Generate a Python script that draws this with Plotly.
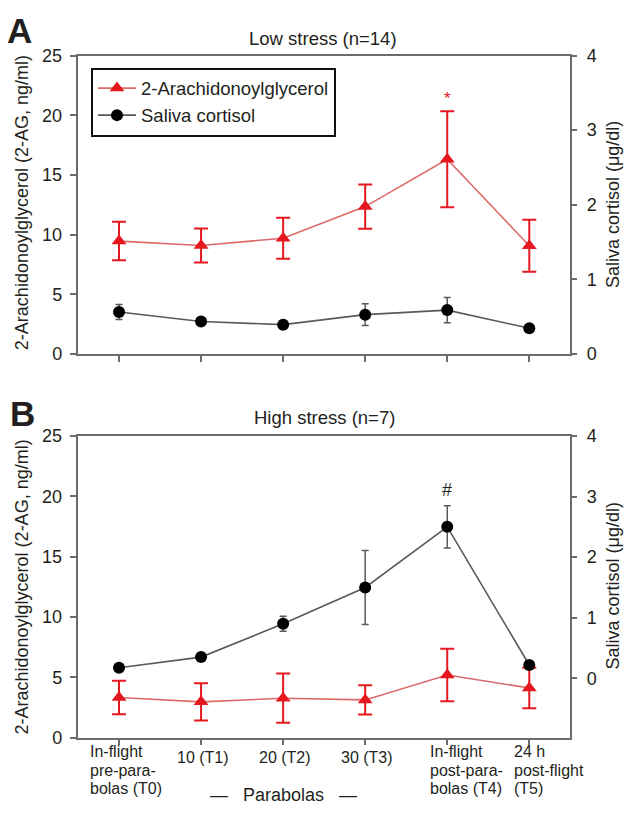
import plotly.graph_objects as go

# ---------------- data ----------------
timepoints = ["T0", "T1", "T2", "T3", "T4", "T5"]
tick_lines = [
    ["In-flight", "pre-para-", "bolas (T0)"],
    ["10 (T1)"],
    ["20 (T2)"],
    ["30 (T3)"],
    ["In-flight", "post-para-", "bolas (T4)"],
    ["24 h", "post-flight", "(T5)"],
]
ag_low = [9.46, 9.09, 9.70, 12.35, 16.31, 9.07]
ag_low_err = [1.61, 1.43, 1.72, 1.86, 4.02, 2.17]
cort_low = [0.563, 0.437, 0.394, 0.528, 0.589, 0.346]
cort_low_err = [0.10, 0.02, 0.055, 0.145, 0.17, 0.02]

ag_high = [3.33, 2.97, 3.27, 3.13, 5.19, 4.12]
ag_high_err = [1.39, 1.55, 2.04, 1.21, 2.17, 1.68]
cort_high = [0.175, 0.35, 0.90, 1.50, 2.50, 0.22]
cort_high_err = [0.03, 0.02, 0.124, 0.61, 0.35, 0.03]

left_ticks = [0, 5, 10, 15, 20, 25]
right_ticks = [0, 1, 2, 3, 4]

# ---------------- styling ----------------
W, H = 625, 815
FONT = "Liberation Sans"
TXT = "#231f20"
AXC = "#6b6b6b"
RED = "#e5171f"
REDLINE = "#dc6a6a"
GRAYLINE = "#5a5a5a"

def px(x):
    return x / W

def py(y):
    return 1 - y / H

xdom = [px(77.5), px(569.5)]
xrange_ = [-0.506, 5.49]
ydomA = [py(352.7), py(46.7)]
ydomB = [py(746), py(436.7)]

idx = list(range(len(timepoints)))

fig = go.Figure()

def add_pair(ag, ag_err, co, co_err, xa, ya_left, ya_right, show):
    fig.add_trace(go.Scatter(
        x=idx, y=ag, name="2-Arachidonoylglycerol", mode="lines+markers",
        xaxis=xa, yaxis=ya_left, showlegend=show,
        line=dict(color=REDLINE, width=1.6),
        marker=dict(symbol="triangle-up", size=13, color=RED),
        error_y=dict(type="data", array=ag_err, visible=True, color=RED,
                     thickness=2, width=7),
    ))
    fig.add_trace(go.Scatter(
        x=idx, y=co, name="Saliva cortisol", mode="lines+markers",
        xaxis=xa, yaxis=ya_right, showlegend=show,
        line=dict(color=GRAYLINE, width=1.6),
        marker=dict(symbol="circle", size=12, color="black"),
        error_y=dict(type="data", array=co_err, visible=True, color=GRAYLINE,
                     thickness=1.5, width=3.5),
    ))

add_pair(ag_low, ag_low_err, cort_low, cort_low_err, "x", "y", "y2", True)
add_pair(ag_high, ag_high_err, cort_high, cort_high_err, "x2", "y3", "y4", False)

axis_common = dict(showline=True, linecolor=AXC, linewidth=1.5, showgrid=False,
                   zeroline=False, ticks="outside", ticklen=6, tickcolor=AXC,
                   tickwidth=1.5, tickfont=dict(family=FONT, size=18, color=TXT))

fig.update_layout(
    width=W, height=H, margin=dict(l=0, r=0, t=0, b=0),
    paper_bgcolor="white", plot_bgcolor="white",
    font=dict(family=FONT, color=TXT),
    xaxis=dict(domain=xdom, anchor="y", range=xrange_, tickvals=idx,
               showticklabels=False, mirror=True, **axis_common),
    yaxis=dict(domain=ydomA, anchor="x", range=[0, 25], tickvals=left_ticks,
               ticklabelstandoff=4, **axis_common),
    yaxis2=dict(overlaying="y", side="right", anchor="x", range=[0, 4],
                tickvals=right_ticks, ticklabelstandoff=6, **axis_common),
    xaxis2=dict(domain=xdom, anchor="y3", range=xrange_, tickvals=idx,
                showticklabels=False, mirror=True, **axis_common),
    yaxis3=dict(domain=ydomB, anchor="x2", range=[0, 25], tickvals=left_ticks,
                ticklabelstandoff=4, **axis_common),
    yaxis4=dict(overlaying="y3", side="right", anchor="x2", range=[-0.98, 4],
                tickvals=right_ticks, ticklabelstandoff=6, **axis_common),
    legend=dict(x=px(91), y=py(59), xanchor="left", yanchor="top",
                bgcolor="white", bordercolor="#111", borderwidth=2,
                font=dict(family=FONT, size=18.5, color=TXT),
                traceorder="normal", itemwidth=38, tracegroupgap=0),
)

ann = []
def text(x, y, s, size, **kw):
    d = dict(x=px(x), y=py(y), xref="paper", yref="paper", text=s,
             showarrow=False, font=dict(family=FONT, size=size, color=kw.pop("color", TXT)))
    d.update(kw)
    ann.append(d)

# panel letters and titles
text(5, 21, "<b>A</b>", 35, xanchor="left", yanchor="middle")
text(8, 414, "<b>B</b>", 35, xanchor="left", yanchor="middle")
text(323, 29, "Low stress (n=14)", 18.5, xanchor="center", yanchor="middle")
text(324, 418, "High stress (n=7)", 18.5, xanchor="center", yanchor="middle")

# axis titles
for yc in (198, 592):
    text(22, yc, "2-Arachidonoylglycerol (2-AG, ng/ml)", 18, textangle=-90,
         xanchor="center", yanchor="middle")
for yc in (200, 591):
    text(613, yc, "Saliva cortisol (\u03bcg/dl)", 18, textangle=-90,
         xanchor="center", yanchor="middle")

# x tick labels for panel B (left-aligned multi-line blocks)
multi_shift = {0: -31, 4: -19, 5: -17}
line_y = [760.5, 779.5, 798.5]
for i, lines in enumerate(tick_lines):
    if len(lines) == 1:
        ann.append(dict(x=i, y=py(766.5), xref="x2", yref="paper", text=lines[0],
                        showarrow=False, xanchor="center", yanchor="middle", xshift=2,
                        font=dict(family=FONT, size=16, color=TXT)))
    else:
        for j, ln in enumerate(lines):
            ann.append(dict(x=i, y=py(line_y[j]), xref="x2", yref="paper", text=ln,
                            showarrow=False, xanchor="left", yanchor="middle",
                            xshift=multi_shift[i],
                            font=dict(family=FONT, size=16, color=TXT)))

ann.append(dict(x=2, y=py(805), xref="x2", yref="paper",
                text="\u2014   Parabolas   \u2014", showarrow=False,
                xanchor="center", yanchor="middle",
                font=dict(family=FONT, size=18, color=TXT)))

# significance markers
ann.append(dict(x=4, y=ag_low[4] + ag_low_err[4], xref="x", yref="y", text="*",
                showarrow=False, yanchor="middle", yshift=13,
                font=dict(family=FONT, size=17, color=RED)))
ann.append(dict(x=4, y=cort_high[4] + cort_high_err[4], xref="x2", yref="y4", text="#",
                showarrow=False, yanchor="middle", yshift=16,
                font=dict(family=FONT, size=18, color=TXT)))

fig.update_layout(annotations=ann)
fig.write_html("out.html", config={"displayModeBar": False},
               post_script="document.body.style.margin='0';document.body.style.overflow='hidden';")
